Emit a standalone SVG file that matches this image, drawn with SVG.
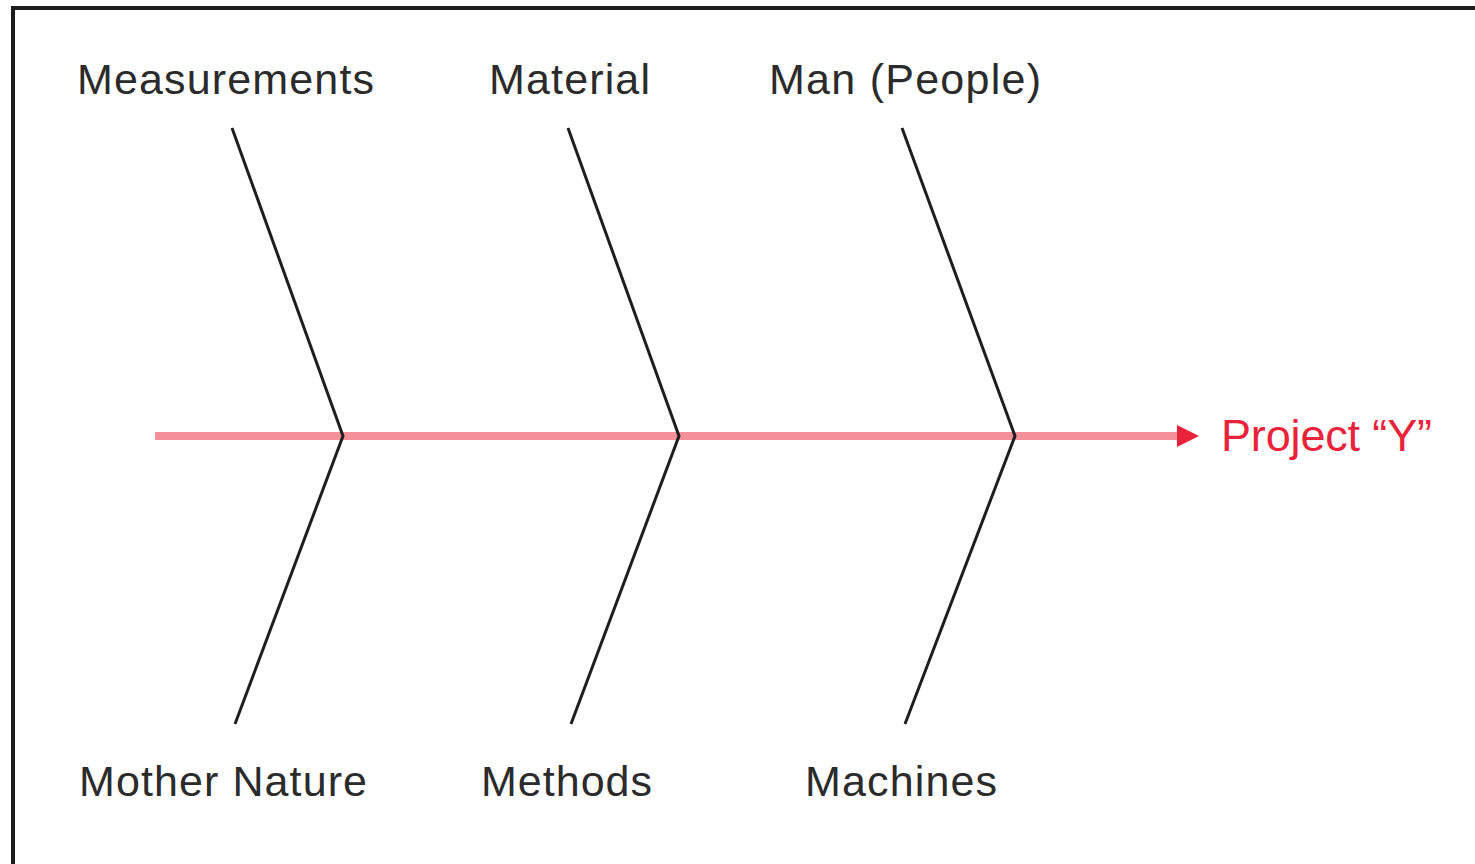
<svg xmlns="http://www.w3.org/2000/svg" width="1475" height="864" viewBox="0 0 1475 864">
  <defs>
    <style>
      .label { font-family: "Liberation Sans", Arial, sans-serif; font-size: 43px; fill: #2b2b2b; }
      .effect { font-family: "Liberation Sans", Arial, sans-serif; font-size: 45px; fill: #e8233a; }
      .bone { fill: none; stroke: #1e1e1e; stroke-width: 3; stroke-linejoin: miter; }
      .spine { stroke: #f4909a; stroke-width: 8; }
    </style>
    <marker id="arrow" markerWidth="22" markerHeight="24" refX="0" refY="12" orient="auto" markerUnits="userSpaceOnUse">
      <path d="M0,1 L22,12 L0,23 Z" fill="#e8233a"/>
    </marker>
  </defs>
  <rect width="1475" height="864" fill="#ffffff"/>
  <!-- frame -->
  <path d="M13,864 V8 H1475" fill="none" stroke="#1c1c1c" stroke-width="4"/>

  <g id="connectors">
    <line class="spine" x1="155" y1="436" x2="1177" y2="436" marker-end="url(#arrow)"/>
    <polyline class="bone" points="232,128 343,436 235,724"/>
    <polyline class="bone" points="568,128 679,436 571,724"/>
    <polyline class="bone" points="902,128 1015,436 905,724"/>
  </g>

  <g id="measurements"><text class="label" x="77" y="94" textLength="297" lengthAdjust="spacing">Measurements</text></g>
  <g id="material"><text class="label" x="489" y="94" textLength="161" lengthAdjust="spacing">Material</text></g>
  <g id="man"><text class="label" x="769" y="94" textLength="272" lengthAdjust="spacing">Man (People)</text></g>
  <g id="mother-nature"><text class="label" x="79" y="796" textLength="288" lengthAdjust="spacing">Mother Nature</text></g>
  <g id="methods"><text class="label" x="481" y="796" textLength="171" lengthAdjust="spacing">Methods</text></g>
  <g id="machines"><text class="label" x="805" y="796" textLength="192" lengthAdjust="spacing">Machines</text></g>
  <g id="project-y"><text class="effect" x="1221" y="451" textLength="211" lengthAdjust="spacing">Project “Y”</text></g>
</svg>
